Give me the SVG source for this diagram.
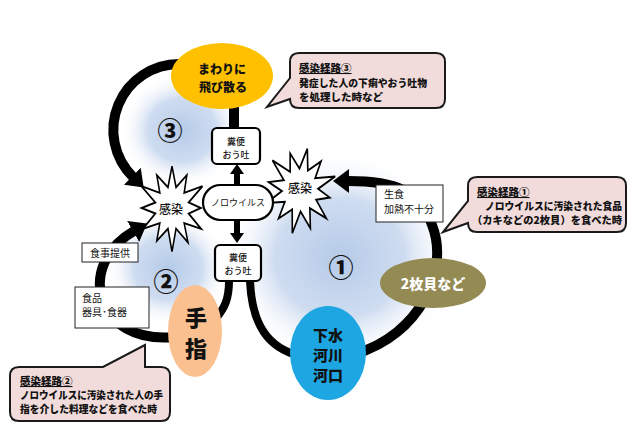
<svg xmlns="http://www.w3.org/2000/svg" width="632" height="426" viewBox="0 0 632 426">
<style>
text{font-family:"Noto Sans CJK JP","Noto Sans CJK SC",sans-serif;fill:#111}
.b{font-weight:900}
.arc{fill:none;stroke:#000;stroke-width:10}
.thin{fill:none;stroke:#000;stroke-width:8}
.sh{fill:none;stroke:#000;stroke-width:6}
.box{fill:#fff;stroke:#000;stroke-width:2.2}
.lbl{fill:#fff;stroke:#222;stroke-width:1}
.call{fill:#F2DCDB;stroke:#1a1a1a;stroke-width:2}
.star{fill:#fff;stroke:#000;stroke-width:2}
.ct{font-size:10.5px;font-weight:900}
.u{text-decoration:underline}
</style>
<defs>
<radialGradient id="glow">
<stop offset="0" stop-color="#B5CAE7"/>
<stop offset="0.55" stop-color="#C6D6EE" stop-opacity="0.85"/>
<stop offset="1" stop-color="#ffffff" stop-opacity="0"/>
</radialGradient>
<marker id="ah1" viewBox="0 0 16 24" markerWidth="16" markerHeight="24" refX="1" refY="12" orient="auto" markerUnits="userSpaceOnUse">
<path d="M0,0 L16,12 L0,24 z" fill="#000"/>
</marker>
<marker id="ah2" viewBox="0 0 10 14" markerWidth="10" markerHeight="14" refX="0" refY="7" orient="auto" markerUnits="userSpaceOnUse">
<path d="M0,0 L10,7 L0,14 z" fill="#000"/>
</marker>
<polygon id="burst" points="0,-43 5.2,-21.3 19,-33.9 15.6,-15.6 39.1,-22.5 21.3,-5.7 37,0 21.3,5.7 37.4,21.6 15.6,15.6 20.5,35.6 5.2,21.3 0,45 -5.2,21.3 -19.5,33.9 -15.6,15.6 -37.4,21.6 -21.3,5.7 -39,0 -21.3,-5.7 -39.1,-22.5 -15.6,-15.6 -19.5,-33.9 -5.2,-21.3"/>
</defs>
<rect width="632" height="426" fill="#fff"/>

<g id="glows">
<ellipse cx="182" cy="130" rx="62" ry="58" fill="url(#glow)"/>
<ellipse cx="168" cy="268" rx="62" ry="58" fill="url(#glow)"/>
<ellipse cx="340" cy="258" rx="118" ry="108" fill="url(#glow)"/>
</g>

<g id="connectors">
<path class="arc" d="M180 64 A66 66 0 0 0 133 177" marker-end="url(#ah1)"/>
<path class="arc" d="M234 130 L234 100"/>
<path class="sh" d="M237 186 L237 174" marker-end="url(#ah2)"/>
<path class="sh" d="M237 220 L237 233" marker-end="url(#ah2)"/>
<path class="thin" d="M229 281 C229 298 225 308 216 318"/>
<path class="thin" d="M250 281 C252 325 268 348 300 356"/>
<path class="arc" d="M175 337 C95 345 75 265 134 231" marker-end="url(#ah1)"/>
<path class="arc" d="M355 354 C420 335 450 270 432 225 C420 190 395 181 348 181" marker-end="url(#ah1)"/>
</g>

<g id="circled-numbers">
<text x="170" y="140" class="b" font-size="25" text-anchor="middle">③</text>
<text x="166" y="291" class="b" font-size="25" text-anchor="middle">②</text>
<text x="341" y="277" class="b" font-size="25" text-anchor="middle">①</text>
</g>

<g id="infection-left">
<use href="#burst" class="star" transform="translate(172,208) scale(0.78,0.97)"/>
<text x="171" y="214" font-size="12" text-anchor="middle" font-weight="500">感染</text>
</g>
<g id="infection-right">
<use href="#burst" class="star" transform="translate(300,190) scale(0.82,0.98) rotate(12)"/>
<text x="300" y="193" font-size="12" text-anchor="middle" font-weight="500">感染</text>
</g>

<g id="norovirus">
<rect x="203" y="185" width="70" height="35" rx="17.5" class="box"/>
<text x="238" y="206" font-size="9" text-anchor="middle">ノロウイルス</text>
</g>

<g id="feces-upper">
<rect x="212" y="128" width="48" height="36" rx="5" class="box"/>
<text x="236" y="145" font-size="9" text-anchor="middle" font-weight="500">糞便</text>
<text x="236" y="158" font-size="9" text-anchor="middle" font-weight="500">おう吐</text>
</g>

<g id="feces-lower">
<rect x="215" y="245" width="46" height="36" rx="5" class="box"/>
<text x="238" y="261" font-size="9" text-anchor="middle" font-weight="500">糞便</text>
<text x="238" y="274" font-size="9" text-anchor="middle" font-weight="500">おう吐</text>
</g>

<g id="scatter">
<ellipse cx="222" cy="76" rx="51" ry="33" fill="#FFC000"/>
<text x="222" y="74" class="b" font-size="12" text-anchor="middle">まわりに</text>
<text x="223" y="92" class="b" font-size="12" text-anchor="middle">飛び散る</text>
</g>

<g id="hands">
<ellipse cx="195" cy="331" rx="27" ry="46" fill="#FAC090"/>
<text x="196" y="326" class="b" font-size="22" text-anchor="middle">手</text>
<text x="196" y="357" class="b" font-size="22" text-anchor="middle">指</text>
</g>

<g id="sewage">
<ellipse cx="328" cy="353" rx="38" ry="47" fill="#1DA6E2"/>
<text x="328" y="341" class="b" font-size="15" text-anchor="middle">下水</text>
<text x="328" y="361" class="b" font-size="15" text-anchor="middle">河川</text>
<text x="328" y="381" class="b" font-size="15" text-anchor="middle">河口</text>
</g>

<g id="bivalves">
<ellipse cx="433" cy="283" rx="53" ry="25" fill="#948A54"/>
<text x="433" y="289" class="b" font-size="14" text-anchor="middle" style="fill:#fff">2枚貝など</text>
</g>

<g id="raw-food">
<rect x="376" y="185" width="67" height="37" class="lbl"/>
<text x="384" y="198" font-size="10">生食</text>
<text x="384" y="213" font-size="10">加熱不十分</text>
</g>

<g id="meal">
<rect x="82" y="243" width="56" height="19" class="lbl"/>
<text x="110" y="257" font-size="10" text-anchor="middle">食事提供</text>
</g>

<g id="utensils">
<rect x="75" y="287" width="74" height="41" class="lbl"/>
<text x="82" y="302" font-size="10">食品</text>
<text x="82" y="316" font-size="10">器具･食器</text>
</g>

<g id="callout-3">
<path class="call" d="M299 53 H436 Q445 53 445 62 V99 Q445 108 436 108 H299 Q290 108 290 99 L267 107 L290 78 V62 Q290 53 299 53 Z"/>
<text x="299" y="72" class="ct u">感染経路③</text>
<text x="299" y="87" class="ct" textLength="128" lengthAdjust="spacingAndGlyphs">発症した人の下痢やおう吐物</text>
<text x="299" y="101" class="ct">を処理した時など</text>
</g>

<g id="callout-1">
<path class="call" d="M477 177 H617 Q626 177 626 186 V223 Q626 232 617 232 H477 Q468 232 468 223 L443 232 L468 201 V186 Q468 177 477 177 Z"/>
<text x="477" y="196" class="ct u">感染経路①</text>
<text x="485" y="210" class="ct" textLength="137" lengthAdjust="spacingAndGlyphs">ノロウイルスに汚染された食品</text>
<text x="472" y="224" class="ct" textLength="150" lengthAdjust="spacingAndGlyphs">（カキなどの2枚貝）を食べた時</text>
</g>

<g id="callout-2">
<path class="call" d="M19 367 H103 L145 345 V367 H161 Q170 367 170 376 V412 Q170 421 161 421 H19 Q10 421 10 412 V376 Q10 367 19 367 Z"/>
<text x="20" y="385" class="ct u">感染経路②</text>
<text x="20" y="399" class="ct" textLength="143" lengthAdjust="spacingAndGlyphs">ノロウイルスに汚染された人の手</text>
<text x="20" y="413" class="ct" textLength="137" lengthAdjust="spacingAndGlyphs">指を介した料理などを食べた時</text>
</g>
</svg>
